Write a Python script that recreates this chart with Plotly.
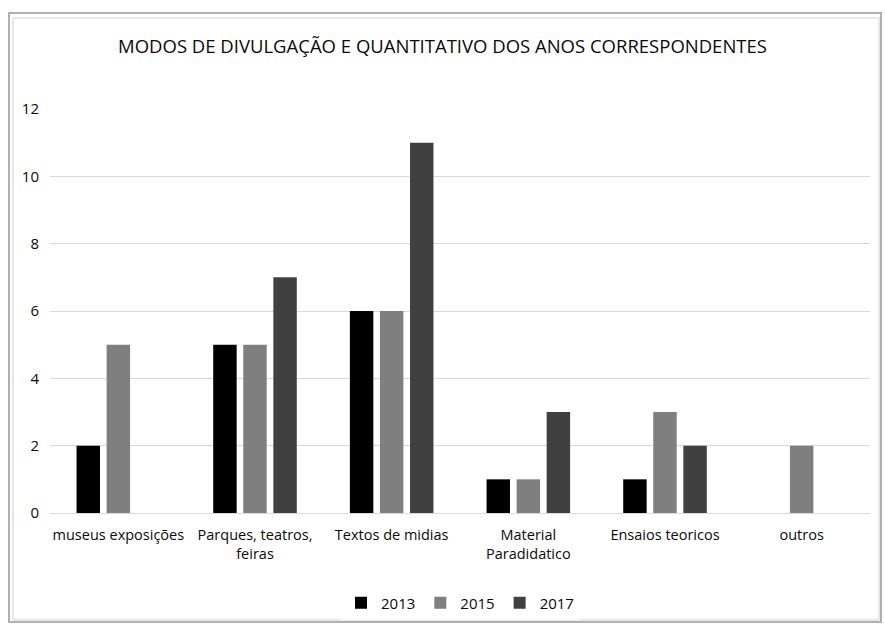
import plotly.graph_objects as go

categories = ["museus exposições", "Parques, teatros,<br>feiras", "Textos de midias",
              "Material<br>Paradidatico", "Ensaios teoricos", "outros"]
v2013 = [2, 5, 6, 1, 1, 0]
v2015 = [5, 5, 6, 1, 3, 2]
v2017 = [0, 7, 11, 3, 2, 0]
series = [("2013", v2013, "#000000"), ("2015", v2015, "#7f7f7f"), ("2017", v2017, "#404040")]

fig = go.Figure()
for name, vals, col in series:
    fig.add_trace(go.Bar(x=categories, y=vals, name=name,
                         marker=dict(color=col, line=dict(width=0))))

L, R, T, B = 50, 15, 109, 112
W, H = 885, 625
pw, ph = W - L - R, H - T - B
def px(x): return (x - L) / pw
def py(y): return (H - B - y) / ph

fig.update_layout(
    width=W, height=H,
    margin=dict(l=L, r=R, t=T, b=B, autoexpand=False),
    paper_bgcolor="white", plot_bgcolor="white",
    font=dict(family="Open Sans, Lato, sans-serif", size=14, color="#0a0a0a"),
    title=dict(text="MODOS DE DIVULGAÇÃO E QUANTITATIVO DOS ANOS CORRESPONDENTES",
               x=0.5, xanchor="center", y=1 - 47 / H, yanchor="middle",
               font=dict(size=18.5, color="#0a0a0a")),
    barmode="group", bargap=0.34, bargroupgap=0.22,
    showlegend=True,
    legend=dict(orientation="h", x=0.5, xanchor="center", y=py(603), yanchor="middle",
                font=dict(size=15), traceorder="normal", itemwidth=30),
    xaxis=dict(showgrid=False, showline=True, linecolor="#d9d9d9", ticks="",
               tickfont=dict(size=14.5), automargin=False, ticklabelstandoff=9),
    yaxis=dict(range=[0, 12], dtick=2, tick0=0, showgrid=True, gridcolor="#d9d9d9",
               zeroline=False, showline=False, ticks="", tickfont=dict(size=15),
               ticklabelstandoff=10, automargin=False),
    shapes=[
        dict(type="rect", xref="paper", yref="paper", x0=px(9), x1=px(881), y0=py(622), y1=py(13),
             line=dict(color="#b0b0b0", width=2), fillcolor="rgba(0,0,0,0)", layer="below"),
        dict(type="rect", xref="paper", yref="paper", x0=px(13), x1=px(879), y0=py(620), y1=py(18),
             line=dict(color="#cfcfcf", width=1), fillcolor="rgba(0,0,0,0)", layer="below"),
    ],
)

fig.write_html("out.html")
